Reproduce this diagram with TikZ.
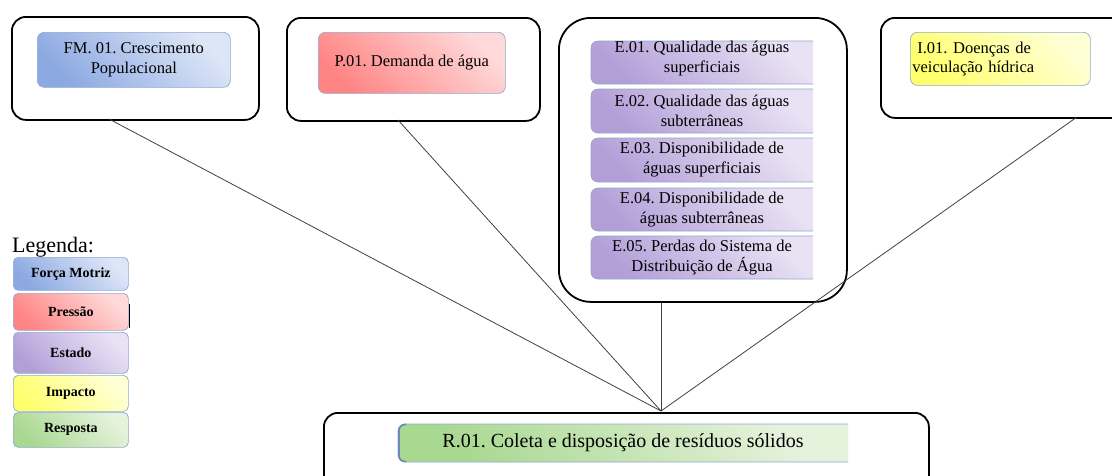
\documentclass[tikz,border=0pt]{standalone}
\usepackage{fontspec}
\setmainfont{Liberation Serif}
\frenchspacing
\definecolor{bordc}{HTML}{8FA8CC}
\definecolor{redge}{HTML}{6F86B8}
\definecolor{blueD}{HTML}{8DA9E2}
\definecolor{blueL}{HTML}{DDE6F7}
\definecolor{redD}{HTML}{FF8585}
\definecolor{redL}{HTML}{FFD9D9}
\definecolor{purD}{HTML}{B39FD8}
\definecolor{purL}{HTML}{E9E2F4}
\definecolor{yelD}{HTML}{FFFF6E}
\definecolor{yelL}{HTML}{FFFFD6}
\definecolor{greD}{HTML}{A9D891}
\definecolor{greL}{HTML}{E5F2DC}
\begin{document}
\begin{tikzpicture}[x=1pt,y=-1pt,
  outer/.style={draw=black, line width=1.8pt, rounded corners=14pt, inner sep=0pt, anchor=north west},
  item/.style={draw=bordc, line width=0.7pt, rounded corners=7pt, inner sep=0pt, anchor=north west, align=center, font=\fontsize{16.5}{20}\selectfont},
  gblue/.style={bottom color=blueD, top color=blueL, shading angle=-45},
  gred/.style={bottom color=redD, top color=redL, shading angle=-45},
  gpur/.style={bottom color=purD, top color=purL, shading angle=-45},
  gyel/.style={bottom color=yelD, top color=yelL, shading angle=-45},
  ggre/.style={bottom color=greD, top color=greL, shading angle=-45},
  etext/.style={align=center, font=\fontsize{16.5}{20}\selectfont},
  leg/.style={item, font=\fontsize{14}{16}\bfseries\selectfont, rounded corners=5pt},
  conn/.style={draw=black!75, line width=0.8pt}]
\useasboundingbox (0,0) rectangle (1112,475);

% outer boxes
\node[outer, minimum width=247pt, minimum height=103pt] (o1) at (11,16) {};
\node[outer, minimum width=253pt, minimum height=103pt] (o2) at (286,17) {};
\node[outer, rounded corners=32pt, minimum width=288pt, minimum height=284pt] (o3) at (558,17) {};
\node[outer, minimum width=260pt, minimum height=100pt] (o4) at (880,17) {};
\node[outer, minimum width=605pt, minimum height=90pt] (o5) at (323,412) {};

% connectors
\coordinate (hub) at (661,411);
\coordinate (c1) at (109,119);
\coordinate (c2) at (398,120);
\coordinate (c4) at (1077,117);
\draw[conn] (c1) -- (hub);
\draw[conn] (c2) -- (hub);
\draw[conn] (o3.south -| hub) -- (hub);
\draw[conn] (c4) -- (hub);

% inner items
\node[item, gblue, minimum width=193pt, minimum height=55pt] (fm) at (37,32) {FM. 01. Crescimento\\Populacional};
\node[item, gred, minimum width=187pt, minimum height=61pt] (p1) at (318,32) {P.01. Demanda de água};
\node[item, gyel, minimum width=180pt, minimum height=53pt, align=left, text width=176pt] (i1) at (910,32) {\hspace*{5pt}I.01. Doenças de\\[-1pt]veiculação hídrica};

% E items (left rounded, right flat)
\foreach \n/\ya/\yb in {1/41/84, 2/89/133, 3/138/182, 4/188/231, 5/236/279}{
  \path (591,\ya) coordinate (e\n nw) (813,\yb) coordinate (e\n se);
  \path[gpur, draw=bordc, line width=0.7pt, rounded corners=7pt]
    (e\n nw -| e\n se) -- (e\n nw) -- (e\n nw |- e\n se) -- (e\n se);
}
\path (e1nw) -- (e1se) node[midway, etext, yshift=4pt] (e1) {E.01. Qualidade das águas\\superficiais};
\path (e2nw) -- (e2se) node[midway, etext] (e2) {E.02. Qualidade das águas\\subterrâneas};
\path (e3nw) -- (e3se) node[midway, etext] (e3) {E.03. Disponibilidade de\\águas superficiais};
\path (e4nw) -- (e4se) node[midway, etext] (e4) {E.04. Disponibilidade de\\águas subterrâneas};
\path (e5nw) -- (e5se) node[midway, etext] (e5) {E.05. Perdas do Sistema de\\Distribuição de Água};

% R item
\path (398,424) coordinate (rnw) (848,462) coordinate (rse);
\path[ggre, draw=bordc, line width=0.7pt, rounded corners=7pt]
  (rnw -| rse) -- (rnw) -- (rnw |- rse) -- (rse);
\draw[draw=redge, line width=1.6pt, rounded corners=6pt] (406,424.5) -- (399,424.5) -- (399,461.5) -- (406,461.5);
\path (rnw) -- (rse) node[midway, font=\fontsize{20}{24}\selectfont] (r1) {R.01. Coleta e disposição de resíduos sólidos};

% legend
\node[anchor=base west, font=\fontsize{22}{24}\selectfont, inner sep=0pt] (legt) at (12,252) {Legenda:};
\node[leg, gblue, minimum width=115pt, minimum height=33pt] (l1) at (13,257) {Força Motriz};
\node[leg, gred, minimum width=115pt, minimum height=37pt] (l2) at (13,293) {Pressão};
\node[leg, gpur, minimum width=115pt, minimum height=41pt] (l3) at (13,332) {Estado};
\node[leg, gyel, minimum width=115pt, minimum height=36pt] (l4) at (13,375) {Impacto};
\node[leg, ggre, minimum width=115pt, minimum height=35pt] (l5) at (13,412) {Resposta};
\draw[black, line width=1pt] (l2.east) ++(0.5,-8) -- ++(0,24);
\end{tikzpicture}
\end{document}
